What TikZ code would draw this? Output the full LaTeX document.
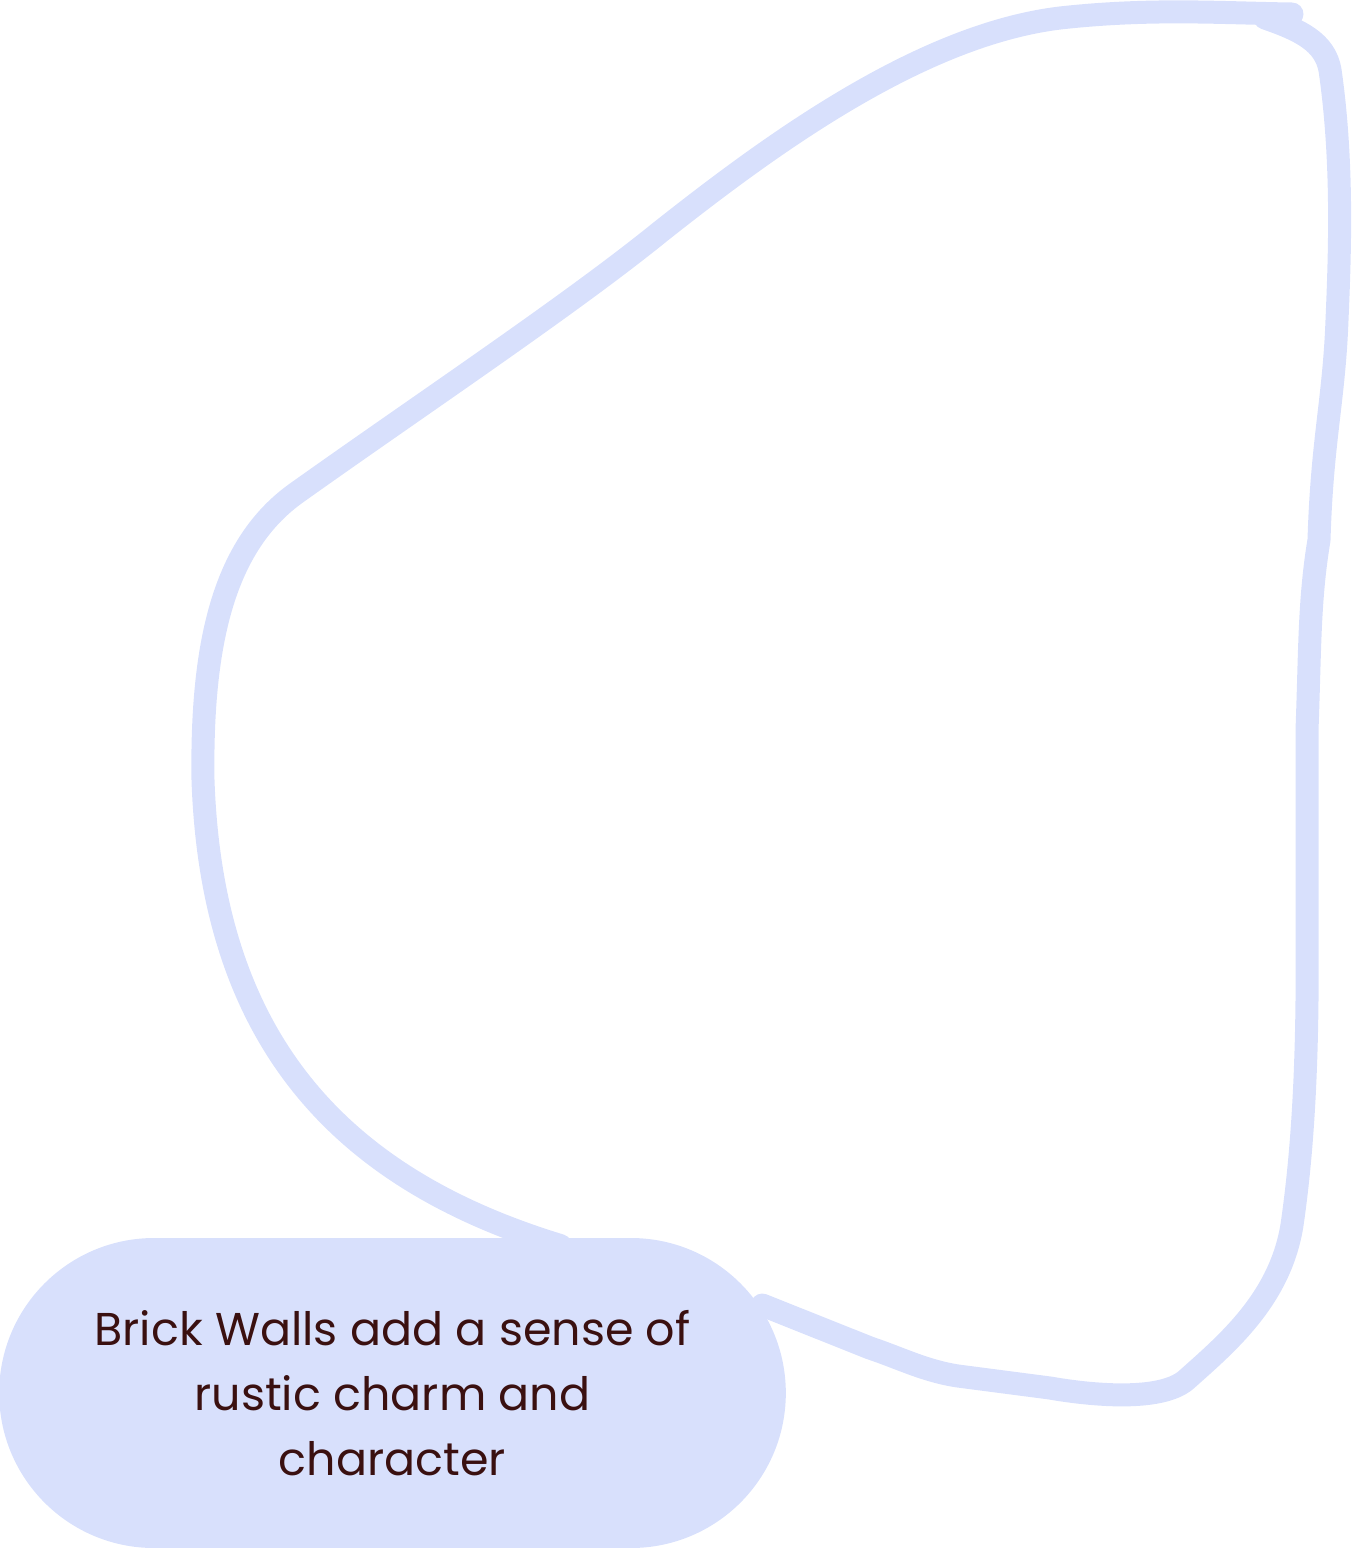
\documentclass[tikz,border=0pt]{standalone}
\usepackage{fontspec}
\setmainfont{Poppins}
\usepackage{xcolor}
\usepackage{tikz}
\usetikzlibrary{shapes,backgrounds,positioning}

\definecolor{wallblue}{HTML}{D8E0FC}
\definecolor{wallbrown}{HTML}{3A1010}

\begin{document}
\begin{tikzpicture}[
      x=0.5pt, y=-0.5pt,
      pill/.style={rounded rectangle, fill=wallblue, text=wallbrown, minimum width=400pt, minimum height=155pt, align=center, font=\fontsize{23}{32.5}\selectfont},
      loopline/.style={draw=wallblue, line width=11.5pt, line cap=round, line join=round}
    ]
      \useasboundingbox (0,0) rectangle (1352,1548);
      \node [pill] (brick) at (392.5,1393) {Brick Walls add a sense of\\rustic charm and\\character};

      \coordinate (loopin) at ([xshift=84pt, yshift=-4pt]brick.north);
      \coordinate (loopout) at ([xshift=-12pt, yshift=44pt]brick.east);

      \begin{scope}[on background layer]
        % left half, up to the top edge
        \draw [loopline] (loopin) .. controls (345,1180) and (212,1045) .. (203,780)
          .. controls (201,640) and (225,545) .. (295,494)
          .. controls (420,405) and (570,305) .. (660,232)
          .. controls (770,145) and (920,35) .. (1060,18)
          .. controls (1150,8) and (1220,13) .. (1292,14);
        % right half, back down to the pill
        \draw [loopline] (1265,18) .. controls (1300,30) and (1325,42) .. (1330,70)
          .. controls (1343,160) and (1340,250) .. (1337,320)
          .. controls (1334,400) and (1322,440) .. (1319,540)
          .. controls (1309,600) and (1310,650) .. (1307,730)
          -- (1307,1000)
          .. controls (1306,1100) and (1300,1170) .. (1292,1225)
          .. controls (1280,1300) and (1225,1345) .. (1186,1380)
          .. controls (1160,1402) and (1090,1395) .. (1050,1388)
          -- (958,1376)
          .. controls (925,1371) and (900,1358) .. (870,1348)
          -- (loopout);
      \end{scope}
    \end{tikzpicture}
\end{document}
